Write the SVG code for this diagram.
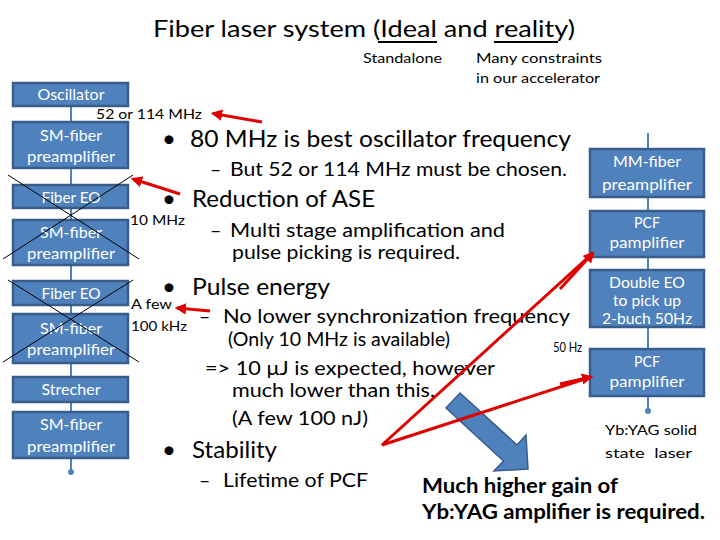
<svg xmlns="http://www.w3.org/2000/svg" width="720" height="540" viewBox="0 0 720 540">
<defs>
<style>
.bx{fill:#4f81bd;stroke:#385d8a;stroke-width:2.5}
.bt{font-family:Lato,"Liberation Sans",sans-serif;font-size:16px;fill:#ffffff;text-anchor:middle}
.t{font-family:Lato,"Liberation Sans",sans-serif;fill:#000000}
.l1{font-size:24px}
.l2{font-size:19.5px}
.sm{font-size:14px}
.bd{font-size:20px;font-weight:bold}
.con{stroke:#4f81bd;stroke-width:2;fill:none}
.red{stroke:#e00000;stroke-width:3;fill:none}
.xl{stroke:#000000;stroke-width:1;fill:none}
</style>
<marker id="dot" viewBox="0 0 6 6" refX="3" refY="3" markerWidth="3" markerHeight="3"><circle cx="3" cy="3" r="3" fill="#4f81bd"/></marker>
<marker id="ra" viewBox="0 0 10 10" refX="8" refY="5" markerWidth="3.8" markerHeight="3.8" orient="auto"><path d="M0,0 L10,5 L0,10 z" fill="#e00000"/></marker>
</defs>
<rect width="720" height="540" fill="#ffffff"/>

<g id="title">
<text class="t" x="153" y="36.5" font-size="23" textLength="422" lengthAdjust="spacingAndGlyphs">Fiber laser system (Ideal and reality)</text>
<line x1="378" y1="42" x2="437" y2="42" stroke="#000" stroke-width="2"/>
<line x1="494" y1="42" x2="558" y2="42" stroke="#000" stroke-width="2"/>
<text class="t sm" x="363" y="63" textLength="79" lengthAdjust="spacingAndGlyphs">Standalone</text>
<text class="t sm" x="476" y="63" textLength="126" lengthAdjust="spacingAndGlyphs">Many constraints</text>
<text class="t sm" x="476" y="83" textLength="124" lengthAdjust="spacingAndGlyphs">in our accelerator</text>
</g>

<g id="connectors">
<line class="con" x1="71" y1="106" x2="71" y2="122"/>
<line class="con" x1="71" y1="168" x2="71" y2="185"/>
<line class="con" x1="71" y1="208" x2="71" y2="220"/>
<line class="con" x1="71" y1="265" x2="71" y2="281"/>
<line class="con" x1="71" y1="305" x2="71" y2="314"/>
<line class="con" x1="71" y1="363" x2="71" y2="377"/>
<line class="con" x1="71" y1="402" x2="71" y2="412"/>
<line class="con" x1="71" y1="458" x2="71" y2="472" marker-end="url(#dot)"/>
<line class="con" x1="648" y1="133" x2="648" y2="149"/>
<line class="con" x1="648" y1="197" x2="648" y2="211"/>
<line class="con" x1="648" y1="257" x2="648" y2="270"/>
<line class="con" x1="648" y1="327" x2="648" y2="349"/>
<line class="con" x1="648" y1="396" x2="648" y2="411" marker-end="url(#dot)"/>
</g>

<g id="osc"><rect class="bx" x="13" y="83" width="115" height="23"/><text class="bt" x="71" y="100" textLength="67" lengthAdjust="spacingAndGlyphs">Oscillator</text></g>
<g id="sm1"><rect class="bx" x="13" y="122" width="115" height="46"/><text class="bt" x="71" y="141" textLength="62" lengthAdjust="spacingAndGlyphs">SM-fiber</text><text class="bt" x="71" y="162" textLength="88" lengthAdjust="spacingAndGlyphs">preamplifier</text></g>
<g id="eo1"><rect class="bx" x="13" y="185" width="115" height="23"/><text class="bt" x="71" y="203" textLength="59" lengthAdjust="spacingAndGlyphs">Fiber EO</text></g>
<g id="sm2"><rect class="bx" x="13" y="220" width="115" height="45"/><text class="bt" x="71" y="238" textLength="62" lengthAdjust="spacingAndGlyphs">SM-fiber</text><text class="bt" x="71" y="259" textLength="88" lengthAdjust="spacingAndGlyphs">preamplifier</text></g>
<g id="eo2"><rect class="bx" x="13" y="281" width="115" height="24"/><text class="bt" x="71" y="299" textLength="59" lengthAdjust="spacingAndGlyphs">Fiber EO</text></g>
<g id="sm3"><rect class="bx" x="13" y="314" width="115" height="49"/><text class="bt" x="71" y="334" textLength="62" lengthAdjust="spacingAndGlyphs">SM-fiber</text><text class="bt" x="71" y="355" textLength="88" lengthAdjust="spacingAndGlyphs">preamplifier</text></g>
<g id="str"><rect class="bx" x="13" y="377" width="115" height="25"/><text class="bt" x="71" y="395" textLength="59" lengthAdjust="spacingAndGlyphs">Strecher</text></g>
<g id="sm4"><rect class="bx" x="13" y="412" width="115" height="46"/><text class="bt" x="71" y="430" textLength="62" lengthAdjust="spacingAndGlyphs">SM-fiber</text><text class="bt" x="71" y="452" textLength="88" lengthAdjust="spacingAndGlyphs">preamplifier</text></g>

<g id="mm"><rect class="bx" x="590" y="149" width="114" height="48"/><text class="bt" x="647" y="167" textLength="68" lengthAdjust="spacingAndGlyphs">MM-fiber</text><text class="bt" x="647" y="190" textLength="90" lengthAdjust="spacingAndGlyphs">preamplifier</text></g>
<g id="pcf1"><rect class="bx" x="590" y="211" width="114" height="46"/><text class="bt" x="647" y="228" textLength="26" lengthAdjust="spacingAndGlyphs">PCF</text><text class="bt" x="647" y="248" textLength="75" lengthAdjust="spacingAndGlyphs">pamplifier</text></g>
<g id="deo"><rect class="bx" x="590" y="270" width="114" height="57"/><text class="bt" x="647" y="288" textLength="76" lengthAdjust="spacingAndGlyphs">Double EO</text><text class="bt" x="647" y="306" textLength="68" lengthAdjust="spacingAndGlyphs">to pick up</text><text class="bt" x="647" y="324" textLength="90" lengthAdjust="spacingAndGlyphs">2-buch 50Hz</text></g>
<g id="pcf2"><rect class="bx" x="590" y="349" width="114" height="47"/><text class="bt" x="647" y="367" textLength="26" lengthAdjust="spacingAndGlyphs">PCF</text><text class="bt" x="647" y="387" textLength="75" lengthAdjust="spacingAndGlyphs">pamplifier</text></g>
<g id="yag"><text class="t sm" x="605" y="435" textLength="92" lengthAdjust="spacingAndGlyphs">Yb:YAG solid</text><text class="t sm" x="605" y="458" textLength="87" lengthAdjust="spacingAndGlyphs" xml:space="preserve">state  laser</text></g>

<g id="crosses">
<line class="xl" x1="8" y1="175" x2="139" y2="259"/>
<line class="xl" x1="133" y1="175" x2="3" y2="259"/>
<line class="xl" x1="8" y1="280" x2="139" y2="362"/>
<line class="xl" x1="133" y1="280" x2="3" y2="362"/>
</g>

<g id="labels">
<text class="t sm" x="96" y="119" textLength="106" lengthAdjust="spacingAndGlyphs">52 or 114 MHz</text>
<text class="t sm" x="130" y="225" textLength="55" lengthAdjust="spacingAndGlyphs">10 MHz</text>
<text class="t sm" x="131" y="309" textLength="41" lengthAdjust="spacingAndGlyphs">A few</text>
<text class="t sm" x="131" y="331" textLength="56" lengthAdjust="spacingAndGlyphs">100 kHz</text>
<text class="t" x="553" y="352" font-size="12.5" textLength="29" lengthAdjust="spacingAndGlyphs">50 Hz</text>
</g>

<g id="bullets">
<text class="t l1" x="169" y="147" text-anchor="middle">•</text>
<text class="t l1" x="190" y="147" textLength="381" lengthAdjust="spacingAndGlyphs">80 MHz is best oscillator frequency</text>
<text class="t l2" x="210" y="176">–</text>
<text class="t l2" x="230" y="176" textLength="337" lengthAdjust="spacingAndGlyphs">But 52 or 114 MHz must be chosen.</text>
<text class="t l1" x="169" y="207" text-anchor="middle">•</text>
<text class="t l1" x="192" y="207" textLength="183" lengthAdjust="spacingAndGlyphs">Reduction of ASE</text>
<text class="t l2" x="210" y="237">–</text>
<text class="t l2" x="230" y="237" textLength="275" lengthAdjust="spacingAndGlyphs">Multi stage amplification and</text>
<text class="t l2" x="232" y="259" textLength="228" lengthAdjust="spacingAndGlyphs">pulse picking is required.</text>
<text class="t l1" x="169" y="295" text-anchor="middle">•</text>
<text class="t l1" x="192" y="295" textLength="138" lengthAdjust="spacingAndGlyphs">Pulse energy</text>
<text class="t l2" x="199" y="323">–</text>
<text class="t l2" x="223" y="323" textLength="347" lengthAdjust="spacingAndGlyphs">No lower synchronization frequency</text>
<text class="t l2" x="228" y="346" textLength="222" lengthAdjust="spacingAndGlyphs">(Only 10 MHz is available)</text>
<text class="t l2" x="205" y="375" textLength="290" lengthAdjust="spacingAndGlyphs">=&gt; 10 μJ is expected, however</text>
<text class="t l2" x="232" y="397" textLength="203" lengthAdjust="spacingAndGlyphs">much lower than this.</text>
<text class="t l2" x="232" y="425" textLength="136" lengthAdjust="spacingAndGlyphs">(A few 100 nJ)</text>
<text class="t l1" x="169" y="458" text-anchor="middle">•</text>
<text class="t l1" x="192" y="458" textLength="85" lengthAdjust="spacingAndGlyphs">Stability</text>
<text class="t l2" x="199" y="487">–</text>
<text class="t l2" x="223" y="487" textLength="145" lengthAdjust="spacingAndGlyphs">Lifetime of PCF</text>
</g>

<g id="conclusion">
<polygon points="460,393 517,445 526,435 528,469 494,471 503.5,461 446,408" fill="#4f81bd" stroke="#385d8a" stroke-width="1.5"/>
<text class="t bd" x="422" y="493" textLength="196" lengthAdjust="spacingAndGlyphs">Much higher gain of</text>
<text class="t bd" x="422" y="519" textLength="283" lengthAdjust="spacingAndGlyphs">Yb:YAG amplifier is required.</text>
</g>

<g id="red-arrows">
<line class="red" x1="262" y1="122" x2="213" y2="113.5" marker-end="url(#ra)"/>
<line class="red" x1="180" y1="194" x2="133" y2="179" marker-end="url(#ra)"/>
<line class="red" x1="210" y1="311" x2="177" y2="308" stroke-width="2.5" marker-end="url(#ra)"/>
<polyline class="red" points="593,253 382,445 591,377"/>
<line class="red" x1="560" y1="289" x2="593" y2="253" marker-end="url(#ra)"/>
<line class="red" x1="560" y1="384" x2="591" y2="377" marker-end="url(#ra)"/>
</g>
</svg>
